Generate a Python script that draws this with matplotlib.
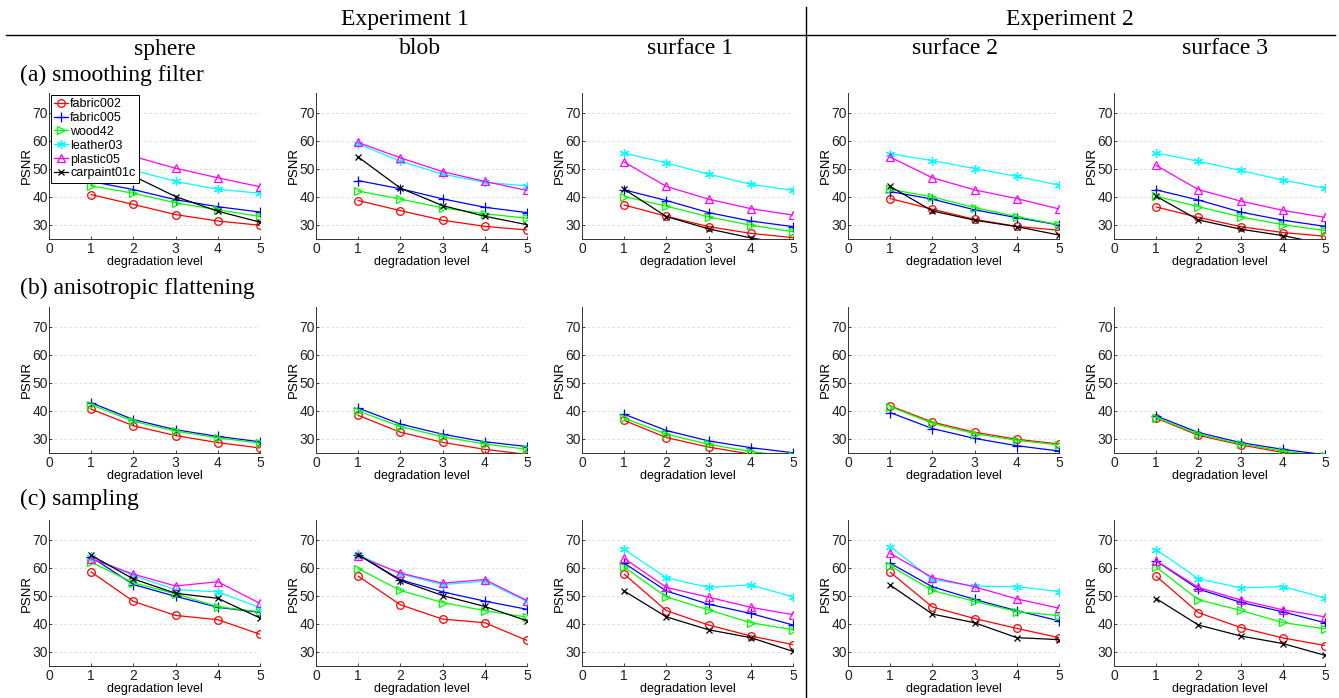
import matplotlib
matplotlib.use("Agg")
import matplotlib.pyplot as plt
from matplotlib.lines import Line2D

# ---------------- data ----------------
columns = ["sphere", "blob", "surface 1", "surface 2", "surface 3"]
levels = [1, 2, 3, 4, 5]
series_names = ["fabric002", "fabric005", "wood42", "leather03", "plastic05", "carpaint01c"]
row_labels = ["(a) smoothing filter", "(b) anisotropic flattening", "(c) sampling"]
experiments = ["Experiment 1", "Experiment 2"]
yticks = [30, 40, 50, 60, 70]
xticks = [0, 1, 2, 3, 4, 5]

# (a) smoothing filter: one list per column (sphere, blob, surface 1, surface 2, surface 3)
smoothing_fabric002 = [[40.8, 37.3, 33.7, 31.4, 29.9], [38.7, 35.1, 31.7, 29.5, 28.2],
                       [37.1, 33.1, 29.4, 27.0, 25.5], [39.4, 35.6, 32.0, 29.5, 28.1],
                       [36.4, 32.7, 29.4, 27.3, 26.0]]
smoothing_fabric005 = [[45.5, 42.6, 39.0, 36.5, 34.6], [45.8, 42.9, 39.3, 36.3, 34.4],
                       [42.5, 38.7, 34.4, 31.4, 29.4], [41.9, 39.2, 35.4, 32.6, 30.0],
                       [42.5, 38.9, 34.6, 31.7, 29.5]]
smoothing_wood42 = [[43.9, 41.3, 37.9, 35.4, 33.0], [42.1, 39.2, 36.1, 34.0, 32.4],
                    [40.1, 36.7, 32.9, 29.9, 27.6], [42.7, 40.0, 36.2, 33.0, 30.1],
                    [40.2, 36.5, 32.9, 30.1, 28.0]]
smoothing_leather03 = [[53.5, 49.5, 45.5, 42.7, 41.3], [58.9, 52.7, 48.1, 45.2, 43.9],
                       [55.6, 52.1, 48.1, 44.5, 42.3], [55.4, 52.9, 50.1, 47.3, 44.2],
                       [55.6, 52.7, 49.4, 46.0, 43.1]]
smoothing_plastic05 = [[58.5, 54.4, 50.2, 46.8, 43.6], [59.4, 53.9, 49.0, 45.5, 42.3],
                       [52.4, 43.7, 39.2, 35.8, 33.5], [54.2, 46.8, 42.5, 39.4, 35.7],
                       [51.2, 42.6, 38.5, 35.2, 32.7]]
smoothing_carpaint01c = [[55.0, 47.4, 40.1, 34.9, 31.0], [54.2, 43.1, 36.9, 33.1, 30.1],
                         [42.7, 33.0, 28.6, 25.4, 22.9], [43.7, 35.0, 31.7, 29.4, 26.4],
                         [40.2, 31.8, 28.5, 26.2, 23.2]]

# (b) anisotropic flattening (only three materials shown)
aniso_fabric002 = [[40.6, 34.7, 31.2, 28.7, 26.8], [38.4, 32.4, 28.8, 26.3, 24.5],
                   [36.6, 30.5, 27.1, 24.6, 23.0], [41.8, 36.0, 32.4, 29.9, 28.2],
                   [37.4, 31.3, 27.9, 25.2, 23.4]]
aniso_fabric005 = [[42.9, 36.9, 33.3, 30.9, 29.0], [41.0, 35.3, 31.7, 29.0, 27.3],
                   [38.8, 33.0, 29.3, 26.9, 25.1], [39.4, 33.7, 30.2, 27.6, 25.7],
                   [38.2, 32.3, 28.7, 26.3, 24.4]]
aniso_wood42 = [[42.2, 36.3, 32.8, 30.4, 28.5], [40.0, 34.4, 30.8, 28.2, 26.3],
                [37.4, 31.7, 28.1, 25.5, 23.8], [41.5, 35.6, 31.9, 29.5, 27.9],
                [37.6, 31.7, 28.2, 25.7, 23.9]]

# (c) sampling
sampling_fabric002 = [[58.5, 48.0, 43.0, 41.5, 36.3], [57.0, 46.8, 41.7, 40.4, 34.1],
                      [57.7, 44.7, 39.6, 35.7, 32.6], [58.4, 46.0, 41.9, 38.4, 35.1],
                      [57.0, 44.0, 38.7, 35.0, 32.3]]
sampling_fabric005 = [[63.8, 54.0, 49.8, 45.9, 44.1], [64.6, 55.7, 51.4, 48.1, 45.2],
                      [61.6, 51.7, 47.0, 43.7, 39.6], [61.6, 53.2, 48.7, 44.7, 41.1],
                      [62.4, 52.4, 47.7, 44.3, 40.4]]
sampling_wood42 = [[62.0, 54.6, 50.7, 46.1, 44.3], [59.7, 51.9, 47.6, 44.7, 42.4],
                   [60.2, 49.6, 45.0, 40.4, 37.9], [60.7, 51.9, 48.0, 44.4, 42.9],
                   [60.2, 48.6, 44.8, 40.5, 38.2]]
sampling_leather03 = [[63.8, 57.2, 52.2, 51.4, 45.8], [64.6, 57.8, 54.0, 55.2, 48.0],
                      [66.5, 56.4, 53.0, 53.9, 49.6], [67.5, 55.8, 53.4, 53.3, 51.5],
                      [66.4, 56.1, 52.8, 53.3, 49.2]]
sampling_plastic05 = [[63.2, 57.7, 53.5, 55.0, 47.3], [64.0, 58.1, 54.5, 55.8, 48.3],
                      [63.3, 53.0, 49.5, 45.9, 43.3], [65.1, 56.5, 53.2, 48.9, 45.6],
                      [62.4, 53.0, 48.5, 45.0, 42.5]]
sampling_carpaint01c = [[64.4, 56.0, 50.9, 49.1, 42.1], [64.7, 55.4, 50.1, 46.2, 41.1],
                        [51.7, 42.5, 37.9, 35.1, 30.2], [53.8, 43.5, 40.4, 35.1, 34.4],
                        [49.0, 39.6, 35.7, 33.0, 28.8]]

rows = [
    [smoothing_fabric002, smoothing_fabric005, smoothing_wood42,
     smoothing_leather03, smoothing_plastic05, smoothing_carpaint01c],
    [aniso_fabric002, aniso_fabric005, aniso_wood42, None, None, None],
    [sampling_fabric002, sampling_fabric005, sampling_wood42,
     sampling_leather03, sampling_plastic05, sampling_carpaint01c],
]

# ---------------- style ----------------
colors = ["#ff0000", "#0000ff", "#00ff00", "#00ffff", "#ff00ff", "#000000"]
markers = ["o", "+", ">", (6, 2, 0), "^", "x"]
fills = ["none", "full", "none", "full", "none", "full"]
msizes = [5.5, 6.5, 5.5, 6.5, 5.5, 5.0]

W, H = 1339, 698
fig = plt.figure(figsize=(W / 100, H / 100), dpi=100)
fig.patch.set_facecolor("white")

sans = "Liberation Sans"
serif = "Liberation Serif"

col_left = [49, 316, 582, 848, 1114]
ax_w = 211
row_top = [93, 307, 520]
ax_h = 146

for r in range(3):
    for c in range(5):
        x0 = col_left[c] / W
        y0 = 1 - (row_top[r] + ax_h) / H
        ax = fig.add_axes([x0, y0, ax_w / W, ax_h / H])
        for s in range(6):
            data = rows[r][s]
            if data is None:
                continue
            mfc = "none" if fills[s] == "none" else colors[s]
            ax.plot(levels, data[c], color=colors[s], marker=markers[s],
                    markerfacecolor=mfc, markeredgecolor=colors[s],
                    markersize=msizes[s], markeredgewidth=0.9, linewidth=0.9,
                    label=series_names[s], zorder=3)
        ax.set_xlim(0, 5)
        ax.set_ylim(25, 77)
        ax.set_xticks(xticks)
        ax.set_yticks(yticks)
        ax.set_xticklabels([str(v) for v in xticks], fontsize=10, family=sans)
        ax.set_yticklabels([str(v) for v in yticks], fontsize=10, family=sans)
        ax.tick_params(direction="in", length=2.5, width=0.6, colors="#222222")
        ax.tick_params(axis="y", pad=0.8)
        ax.tick_params(axis="x", pad=2)
        for sp in ["top", "right"]:
            ax.spines[sp].set_visible(False)
        for sp in ["left", "bottom"]:
            ax.spines[sp].set_color("#333333")
            ax.spines[sp].set_linewidth(0.7)
        ax.yaxis.grid(True, linestyle=(0, (3, 3)), color="#d8d8d8", linewidth=0.6)
        ax.set_axisbelow(True)
        ax.set_xlabel("degradation level", fontsize=9, family=sans, labelpad=0)
        ax.set_ylabel("PSNR", fontsize=9.5, family=sans, labelpad=0)
        if r == 0 and c == 0:
            leg = ax.legend(loc="upper left", handlelength=1.1,
                            handletextpad=0.2, borderpad=0.25, labelspacing=0.15,
                            borderaxespad=0.15, fancybox=False, framealpha=1,
                            prop={"family": sans, "size": 9})
            leg.get_frame().set_edgecolor("#000000")
            leg.get_frame().set_linewidth(0.7)
            leg.set_zorder(10)

# headers
fig.text(405 / W, 1 - 20 / H, experiments[0], ha="center", va="center",
         fontsize=17, family=serif)
fig.text(1070 / W, 1 - 20 / H, experiments[1], ha="center", va="center",
         fontsize=17, family=serif)
col_centers = [165, 420, 690, 955, 1225]
for c in range(5):
    fig.text(col_centers[c] / W, 1 - 49 / H, columns[c], ha="center", va="center",
             fontsize=17, family=serif)
row_label_y = [75, 288, 499]
for r in range(3):
    fig.text(20 / W, 1 - row_label_y[r] / H, row_labels[r], ha="left", va="center",
             fontsize=17, family=serif)

# separator lines
fig.add_artist(Line2D([6 / W, 1335 / W], [1 - 35 / H, 1 - 35 / H],
                      color="black", linewidth=1.0, transform=fig.transFigure))
fig.add_artist(Line2D([806 / W, 806 / W], [1 - 7 / H, 0],
                      color="black", linewidth=1.0, transform=fig.transFigure))

fig.savefig("out.png", dpi=100, facecolor="white")
